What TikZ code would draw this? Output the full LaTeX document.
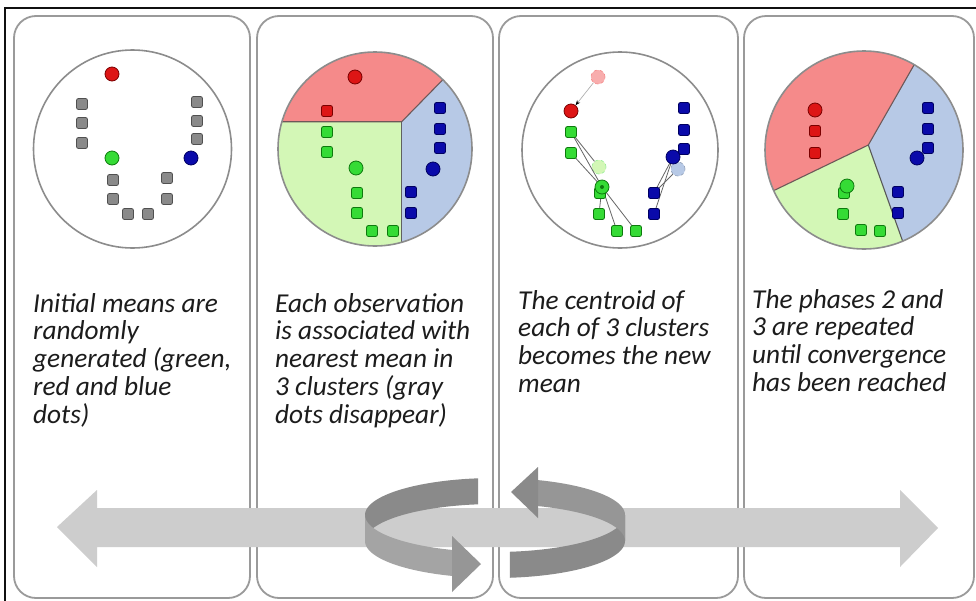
\documentclass[tikz,border=0pt]{standalone}
\usepackage{fontspec}
\setmainfont{Carlito}
\usetikzlibrary{arrows.meta}
\definecolor{frameln}{HTML}{101010}
\definecolor{panelln}{HTML}{9A9A9A}
\definecolor{circln}{HTML}{8C8C8C}
\definecolor{regred}{HTML}{F58A8A}
\definecolor{reggreen}{HTML}{D3F7B6}
\definecolor{regblue}{HTML}{B7C9E6}
\definecolor{bordln}{HTML}{6E5858}
\definecolor{mred}{HTML}{DD1515}
\definecolor{mredd}{HTML}{7A0000}
\definecolor{mgreen}{HTML}{35DB35}
\definecolor{mgreend}{HTML}{0E7A0E}
\definecolor{mblue}{HTML}{0A0AAA}
\definecolor{mblued}{HTML}{000060}
\definecolor{mgray}{HTML}{8A8A8A}
\definecolor{mgrayd}{HTML}{505050}
\definecolor{bigarrow}{HTML}{CDCDCD}
\definecolor{ringdark}{HTML}{8A8A8A}
\definecolor{ringlight}{HTML}{A4A4A4}
\definecolor{ringmid}{HTML}{969696}
\definecolor{txtcol}{HTML}{1C1C1C}
\begin{document}
\begin{tikzpicture}[x=1pt,y=-1pt,
  panel/.style={draw=panelln, line width=1.8pt, rounded corners=22pt, fill=white},
  plate/.style={draw=circln, line width=1.6pt},
  bord/.style={draw=bordln, line width=1.1pt},
  meanred/.style={circle, minimum size=14pt, inner sep=0pt, fill=mred, draw=mredd, line width=0.8pt},
  meangreen/.style={circle, minimum size=14pt, inner sep=0pt, fill=mgreen, draw=mgreend, line width=0.8pt},
  meanblue/.style={circle, minimum size=14pt, inner sep=0pt, fill=mblue, draw=mblued, line width=0.8pt},
  oldred/.style={circle, minimum size=14pt, inner sep=0pt, fill=regred!70, draw=regred, dashed, line width=0.6pt},
  oldgreen/.style={circle, minimum size=14pt, inner sep=0pt, fill=reggreen, draw=mgreen!50, dashed, line width=0.6pt},
  oldblue/.style={circle, minimum size=14pt, inner sep=0pt, fill=regblue, draw=regblue!80!black, dashed, line width=0.6pt},
  sqgray/.style={rectangle, rounded corners=2pt, minimum size=11pt, inner sep=0pt, fill=mgray, draw=mgrayd, line width=0.8pt},
  sqred/.style={rectangle, rounded corners=2pt, minimum size=11pt, inner sep=0pt, fill=mred, draw=mredd, line width=0.8pt},
  sqgreen/.style={rectangle, rounded corners=2pt, minimum size=11pt, inner sep=0pt, fill=mgreen, draw=mgreend, line width=0.8pt},
  sqblue/.style={rectangle, rounded corners=2pt, minimum size=11pt, inner sep=0pt, fill=mblue, draw=mblued, line width=0.8pt},
  link/.style={draw=gray!80!black, line width=0.8pt},
  txt/.style={anchor=north west, inner sep=0pt, align=left, text=txtcol,
    font=\fontsize{27.3}{27.8}\selectfont\itshape}
]
\useasboundingbox (0,0) rectangle (976,600);
\clip (0,0) rectangle (976,600);
\fill[white] (0,0) rectangle (976,600);
% outer frame
\draw[frameln, line width=2pt] (5,8) rectangle (990,620);
% panels
\draw[panel] (14,16) rectangle (250,598);
\draw[panel] (257,16) rectangle (493,598);
\draw[panel] (499,16) rectangle (738,598);
\draw[panel] (744,16) rectangle (974,598);

% ---------- circle 1 ----------
\draw[plate, fill=white] (132.5,149) circle[radius=99];
\foreach \p [count=\i] in {(82,104),(82,123),(82,143),(197,102),(197,121),(197,139),(113,180),(113,199),(128,214),(148,214),(167,178),(167,199)}
  \node[sqgray] (a\i) at \p {};
\node[meanred] (ar) at (112,74) {};
\node[meangreen] (ag) at (112,158) {};
\node[meanblue] (ab) at (191,158) {};

% ---------- circle 2 ----------
\begin{scope}
\clip (375,149) circle[radius=97];
\fill[regred] (270,121.7) -- (401.7,121.7) -- (481.7,40) -- (270,40) -- cycle;
\fill[regblue] (401.7,121.7) -- (481.7,40) -- (490,40) -- (490,260) -- (401.7,260) -- cycle;
\fill[reggreen] (270,121.7) -- (401.7,121.7) -- (401.7,260) -- (270,260) -- cycle;
\draw[bord] (270,121.7) -- (401.7,121.7) -- (481.7,40);
\draw[bord, draw=gray!75!black] (401.7,121.7) -- (401.7,260);
\end{scope}
\draw[plate] (375,149) circle[radius=97];
\node[meanred] (br) at (355,77) {};
\node[sqred] (bs) at (327,111) {};
\foreach \p [count=\i] in {(327,132),(327,152),(357,193),(357,213),(372,231),(393,231)}
  \node[sqgreen] (bg\i) at \p {};
\node[meangreen] (bgm) at (356,168) {};
\foreach \p [count=\i] in {(440,108),(440,129),(440,148),(411,192),(411,213)}
  \node[sqblue] (bb\i) at \p {};
\node[meanblue] (bbm) at (433,169) {};

% ---------- circle 3 ----------
\draw[plate, fill=white] (620,150) circle[radius=98];
\node[oldred] (cro) at (598,77) {};
\node[oldgreen] (cgo) at (599,167) {};
\node[oldblue] (cbo) at (678,169) {};
\coordinate (cgm) at (602,187);
\coordinate (cbm) at (673,157);
\coordinate (cgp1) at (571,132);
\coordinate (cgp2) at (571,153);
\coordinate (cgp3) at (600,193);
\coordinate (cgp4) at (599,214);
\coordinate (cgp5) at (617,231);
\coordinate (cgp6) at (636,231);
\coordinate (cbp1) at (684,108);
\coordinate (cbp2) at (684,130);
\coordinate (cbp3) at (684,149);
\coordinate (cbp4) at (654,193);
\coordinate (cbp5) at (654,214);
\foreach \i in {1,2,4,5,6} \draw[link] (cgp\i) -- (cgm);
\draw[link] (cgp1) -- (cgo);
\foreach \i in {3,4,5} \draw[link] (cbp\i) -- (cbm);
\draw[link] (cbp4) -- (cbo);
\node[meanred] (cr) at (571,111) {};
\draw[draw=gray!70, line width=0.6pt, -{Stealth[length=5pt,width=4pt,color=black]}] (cro) -- (cr);
\foreach \i in {1,...,6} \node[sqgreen] (cg\i) at (cgp\i) {};
\foreach \i in {1,...,5} \node[sqblue] (cb\i) at (cbp\i) {};
\node[meangreen] (cgmn) at (cgm) {};
\node[circle, fill=mgreend, minimum size=4pt, inner sep=0pt] (cgc) at (cgm) {};
\node[meanblue] (cbmn) at (cbm) {};

% ---------- circle 4 ----------
\begin{scope}
\clip (864,150) circle[radius=99];
\fill[regred] (868.3,145) -- (958,-12) -- (720,-12) -- (720,212.5) -- (728.3,212.5) -- cycle;
\fill[regblue] (868.3,145) -- (958,-12) -- (990,-12) -- (990,290) -- (917.4,290) -- (917.4,282.5) -- cycle;
\fill[reggreen] (868.3,145) -- (728.3,212.5) -- (720,212.5) -- (720,290) -- (917.4,290) -- (917.4,282.5) -- cycle;
\draw[bord] (958,-12) -- (868.3,145) -- (728.3,212.5);
\draw[bord, draw=gray!70!black] (868.3,145) -- (917.4,282.5);
\end{scope}
\draw[plate] (864,150) circle[radius=99];
\node[meanred] (dr) at (815,110) {};
\node[sqred] (ds1) at (815,131) {};
\node[sqred] (ds2) at (815,153) {};
\foreach \p [count=\i] in {(844,193),(843,214),(861,230),(880,231)}
  \node[sqgreen] (dg\i) at \p {};
\node[meangreen] (dgm) at (847,186) {};
\foreach \p [count=\i] in {(928,108),(928,129),(928,148),(898,192),(898,213)}
  \node[sqblue] (db\i) at \p {};
\node[meanblue] (dbm) at (917,158) {};

% ---------- texts ----------
\node[txt] (t1) at (33,293) {Initial means are\\randomly\\generated (green,\\red and blue\\dots)};
\node[txt] (t2) at (275,293) {Each observation\\is associated with\\nearest mean in\\3 clusters (gray\\dots disappear)};
\node[txt] (t3) at (518,290) {The centroid of\\each of 3 clusters\\becomes the new\\mean};
\node[txt] (t4) at (752,289) {The phases 2 and\\3 are repeated\\until convergence\\has been reached};

% ---------- big double arrow ----------
\fill[bigarrow] (57,527) -- (97,490) -- (97,508) -- (900,508) -- (900,490) -- (938,528)
  -- (900,567) -- (900,547) -- (97,547) -- (97,567) -- cycle;

% ---------- circular arrows ----------
\fill[ringdark] plot[domain=97.5:180, samples=40] ({495+130*cos(\x)},{515-37*sin(\x)})
  -- plot[domain=180:97.5, samples=40] ({495+130*cos(\x)},{541-37*sin(\x)}) -- cycle;
\fill[ringlight] plot[domain=180:250.7, samples=40] ({495+130*cos(\x)},{515-37*sin(\x)})
  -- plot[domain=250.7:180, samples=40] ({495+130*cos(\x)},{541-37*sin(\x)}) -- cycle;
\fill[ringmid] (452,536) -- (481,564) -- (452,592) -- cycle;
\fill[ringdark] plot[domain=-83.4:0, samples=40] ({495+130*cos(\x)},{515-37*sin(\x)})
  -- plot[domain=0:-83.4, samples=40] ({495+130*cos(\x)},{541-37*sin(\x)}) -- cycle;
\fill[ringmid] plot[domain=0:70.7, samples=40] ({495+130*cos(\x)},{515-37*sin(\x)})
  -- plot[domain=70.7:0, samples=40] ({495+130*cos(\x)},{541-37*sin(\x)}) -- cycle;
\fill[ringdark] (538,467) -- (511,492) -- (538,518) -- cycle;
\end{tikzpicture}
\end{document}
